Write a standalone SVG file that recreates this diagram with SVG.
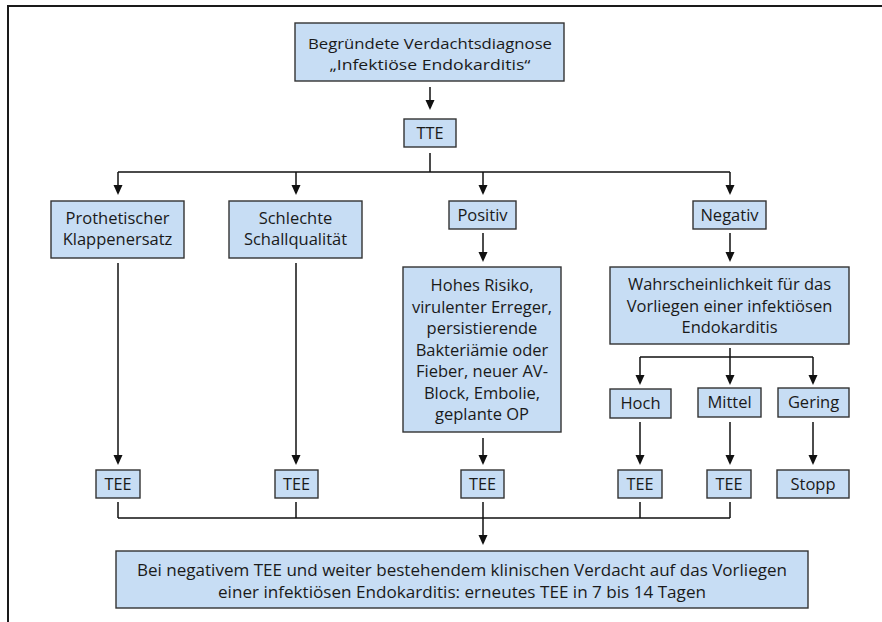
<svg xmlns="http://www.w3.org/2000/svg" width="882" height="622" viewBox="0 0 882 622">
<style>
.box{fill:#c7ddf4;stroke:#333;stroke-width:1.4}
.t{font-family:"Open Sans","Liberation Sans",Arial,sans-serif;font-size:16.5px;fill:#1a1a1a;text-anchor:middle}
.s{font-size:15px}
.ln{fill:none;stroke:#111;stroke-width:1.5}
.frame{fill:none;stroke:#1a1a1a;stroke-width:2}
</style>
<defs>
<marker id="ah" markerWidth="10" markerHeight="10" refX="8" refY="5" orient="auto" markerUnits="userSpaceOnUse">
<path d="M0,0.5 L10,5 L0,9.5 z" fill="#111"/>
</marker>
</defs>
<rect width="882" height="622" fill="#fff"/>
<path class="frame" d="M8,622 V6 H882"/>

<g id="connectors">
<path class="ln" d="M430,87 V108" marker-end="url(#ah)"/>
<path class="ln" d="M430,153 V172 M118,172 H730"/>
<path class="ln" d="M118,172 V193" marker-end="url(#ah)"/>
<path class="ln" d="M296,172 V193" marker-end="url(#ah)"/>
<path class="ln" d="M483,172 V193" marker-end="url(#ah)"/>
<path class="ln" d="M730,172 V193" marker-end="url(#ah)"/>
<path class="ln" d="M118,263 V463" marker-end="url(#ah)"/>
<path class="ln" d="M296,263 V463" marker-end="url(#ah)"/>
<path class="ln" d="M483,233 V260" marker-end="url(#ah)"/>
<path class="ln" d="M483,438 V463" marker-end="url(#ah)"/>
<path class="ln" d="M730,233 V260" marker-end="url(#ah)"/>
<path class="ln" d="M730,348 V357 M640,357 H813"/>
<path class="ln" d="M640,357 V383" marker-end="url(#ah)"/>
<path class="ln" d="M730,357 V383" marker-end="url(#ah)"/>
<path class="ln" d="M813,357 V383" marker-end="url(#ah)"/>
<path class="ln" d="M640,422 V463" marker-end="url(#ah)"/>
<path class="ln" d="M730,422 V463" marker-end="url(#ah)"/>
<path class="ln" d="M813,422 V463" marker-end="url(#ah)"/>
<path class="ln" d="M118,502 V518 M296,502 V518 M640,502 V518 M730,502 V518 M118,518 H730"/>
<path class="ln" d="M483,502 V543" marker-end="url(#ah)"/>
</g>

<g id="n-start">
<rect class="box" x="295" y="23" width="269" height="58"/>
<text class="t s" x="430" y="49" textLength="244" lengthAdjust="spacingAndGlyphs">Begründete Verdachtsdiagnose</text>
<text class="t s" x="430" y="69.5" textLength="201" lengthAdjust="spacingAndGlyphs">„Infektiöse Endokarditis“</text>
</g>
<g id="n-tte">
<rect class="box" x="404" y="119" width="52" height="28"/>
<text class="t" x="430" y="139" textLength="27" lengthAdjust="spacingAndGlyphs">TTE</text>
</g>
<g id="n-prothetisch">
<rect class="box" x="51" y="201" width="133" height="57"/>
<text class="t" x="117.5" y="224">Prothetischer</text>
<text class="t" x="117.5" y="245">Klappenersatz</text>
</g>
<g id="n-schall">
<rect class="box" x="229" y="201" width="133" height="57"/>
<text class="t" x="295.5" y="224">Schlechte</text>
<text class="t" x="295.5" y="245">Schallqualität</text>
</g>
<g id="n-positiv">
<rect class="box" x="449" y="201" width="67" height="28"/>
<text class="t" x="482.5" y="221">Positiv</text>
</g>
<g id="n-negativ">
<rect class="box" x="693" y="201" width="73" height="28"/>
<text class="t" x="729.5" y="221">Negativ</text>
</g>
<g id="n-risiko">
<rect class="box" x="403" y="267" width="158" height="165"/>
<text class="t" x="482" y="291">Hohes Risiko,</text>
<text class="t" x="482" y="312.5">virulenter Erreger,</text>
<text class="t" x="482" y="334">persistierende</text>
<text class="t" x="482" y="355.5">Bakteriämie oder</text>
<text class="t" x="482" y="377">Fieber, neuer AV-</text>
<text class="t" x="482" y="398.5">Block, Embolie,</text>
<text class="t" x="482" y="420">geplante OP</text>
</g>
<g id="n-wahrsch">
<rect class="box" x="610" y="267" width="239" height="77"/>
<text class="t" x="729.5" y="290">Wahrscheinlichkeit für das</text>
<text class="t" x="729.5" y="311.5">Vorliegen einer infektiösen</text>
<text class="t" x="729.5" y="333">Endokarditis</text>
</g>
<g id="n-hoch">
<rect class="box" x="610" y="389" width="61" height="29"/>
<text class="t" x="640.5" y="409">Hoch</text>
</g>
<g id="n-mittel">
<rect class="box" x="698" y="388" width="63" height="29"/>
<text class="t" x="729.5" y="408">Mittel</text>
</g>
<g id="n-gering">
<rect class="box" x="778" y="388" width="71" height="29"/>
<text class="t" x="813.5" y="408">Gering</text>
</g>
<g id="n-tee1">
<rect class="box" x="96" y="470" width="44" height="28"/>
<text class="t" x="118" y="490" textLength="27" lengthAdjust="spacingAndGlyphs">TEE</text>
</g>
<g id="n-tee2">
<rect class="box" x="275" y="470" width="43" height="28"/>
<text class="t" x="296.5" y="490" textLength="27" lengthAdjust="spacingAndGlyphs">TEE</text>
</g>
<g id="n-tee3">
<rect class="box" x="461" y="470" width="43" height="28"/>
<text class="t" x="482.5" y="490" textLength="27" lengthAdjust="spacingAndGlyphs">TEE</text>
</g>
<g id="n-tee4">
<rect class="box" x="618" y="470" width="44" height="28"/>
<text class="t" x="640" y="490" textLength="27" lengthAdjust="spacingAndGlyphs">TEE</text>
</g>
<g id="n-tee5">
<rect class="box" x="707" y="470" width="44" height="28"/>
<text class="t" x="729" y="490" textLength="27" lengthAdjust="spacingAndGlyphs">TEE</text>
</g>
<g id="n-stopp">
<rect class="box" x="777" y="470" width="72" height="28"/>
<text class="t" x="813" y="490">Stopp</text>
</g>
<g id="n-final">
<rect class="box" x="116" y="551" width="692" height="57"/>
<text class="t" x="462" y="575.5" textLength="650" lengthAdjust="spacingAndGlyphs">Bei negativem TEE und weiter bestehendem klinischen Verdacht auf das Vorliegen</text>
<text class="t" x="462" y="597.5" textLength="488" lengthAdjust="spacingAndGlyphs">einer infektiösen Endokarditis: erneutes TEE in 7 bis 14 Tagen</text>
</g>
</svg>
